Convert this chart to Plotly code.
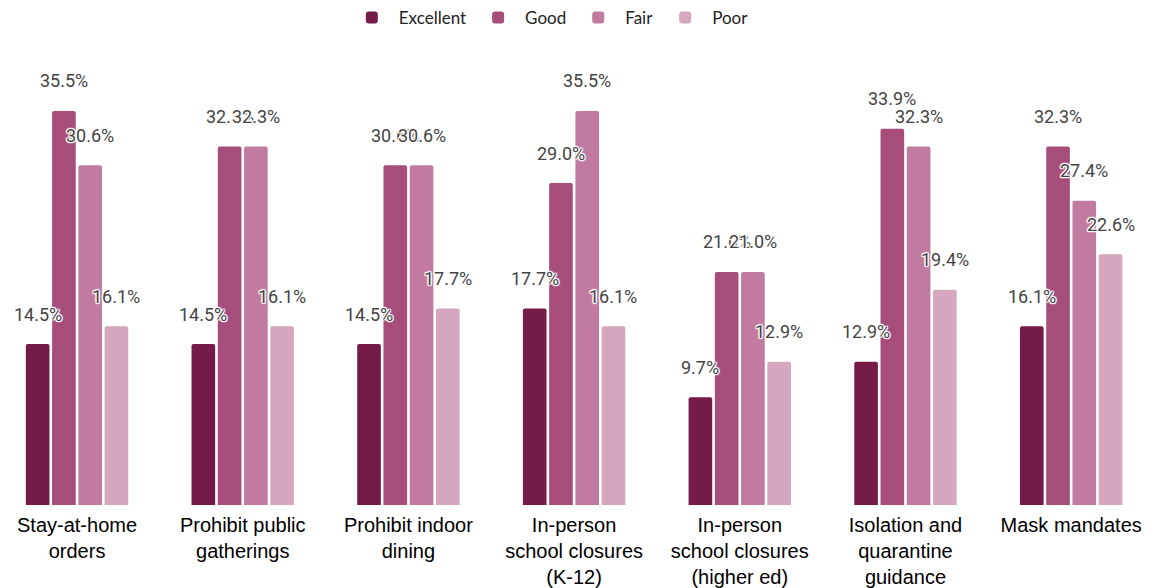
import plotly.graph_objects as go

categories = [
    "Stay-at-home<br>orders",
    "Prohibit public<br>gatherings",
    "Prohibit indoor<br>dining",
    "In-person<br>school closures<br>(K-12)",
    "In-person<br>school closures<br>(higher ed)",
    "Isolation and<br>quarantine<br>guidance",
    "Mask mandates",
]

excellent = [14.5, 14.5, 14.5, 17.7, 9.7, 12.9, 16.1]
good = [35.5, 32.3, 30.6, 29.0, 21.0, 33.9, 32.3]
fair = [30.6, 32.3, 30.6, 35.5, 21.0, 32.3, 27.4]
poor = [16.1, 16.1, 17.7, 16.1, 12.9, 19.4, 22.6]

series = [
    ("Excellent", excellent, "#741b47"),
    ("Good", good, "#a64d79"),
    ("Fair", fair, "#c27ba0"),
    ("Poor", poor, "#d5a6bd"),
]

BARGAP = 0.366
halo = ", ".join(
    f"white {dx}px {dy}px 1px"
    for dx, dy in [(1, 1), (-1, -1), (1, -1), (-1, 1), (0, 1), (0, -1), (1, 0), (-1, 0)]
)

fig = go.Figure()
for name, vals, color in series:
    fig.add_trace(go.Bar(
        name=name,
        x=list(range(len(categories))),
        y=vals,
        marker=dict(color=color, cornerradius=2, line=dict(width=0)),
        hovertemplate=name + ": %{y:.1f}%<extra></extra>",
    ))

# value labels floating above each bar, centred on the bar within its group
slot = (1 - BARGAP) / len(series)
for j, (name, vals, color) in enumerate(series):
    for i, v in enumerate(vals):
        fig.add_annotation(
            x=i + (j - (len(series) - 1) / 2) * slot,
            y=v,
            xref="x",
            yref="y",
            text=f"{v:.1f}%",
            showarrow=False,
            yanchor="middle",
            yshift=30,
            font=dict(family="Roboto", size=18, color="#444444", shadow=halo),
        )

fig.update_layout(
    width=1154,
    height=588,
    barmode="group",
    bargap=BARGAP,
    bargroupgap=0.1,
    plot_bgcolor="white",
    paper_bgcolor="white",
    margin=dict(l=0, r=0, t=61, b=81),
    showlegend=True,
    legend=dict(
        orientation="h",
        x=0.476,
        xanchor="center",
        yref="container",
        y=1.0,
        yanchor="top",
        itemwidth=44,
        font=dict(family="Lato", size=17, color="#222222"),
        traceorder="normal",
    ),
    xaxis=dict(
        range=[-0.465, 6.5],
        tickmode="array",
        tickvals=list(range(len(categories))),
        ticktext=categories,
        showgrid=False,
        showline=False,
        zeroline=False,
        ticks="",
        ticklabelstandoff=6,
        tickfont=dict(family="Liberation Sans, Arial", size=20, color="#000000"),
    ),
    yaxis=dict(
        range=[0, 40],
        visible=False,
        showgrid=False,
        zeroline=False,
    ),
)

fig.write_html("out.html")
